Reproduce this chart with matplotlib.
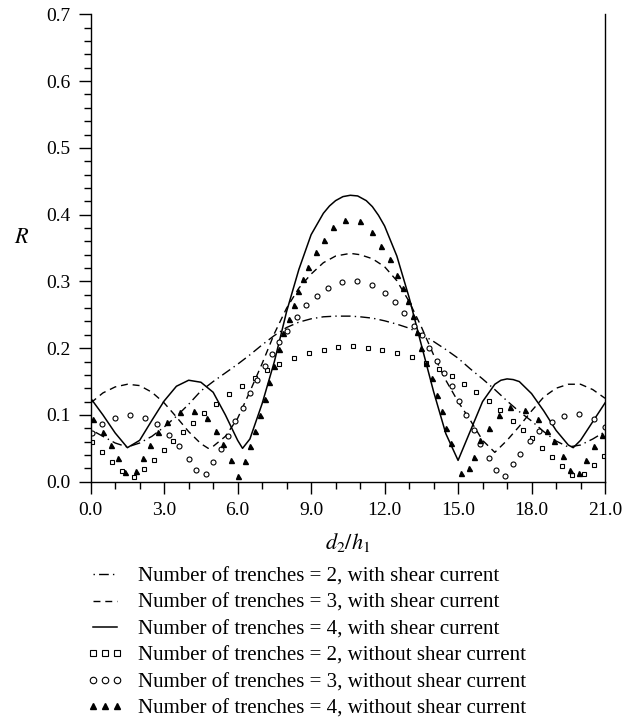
import numpy as np
import matplotlib
matplotlib.use("Agg")
import matplotlib.pyplot as plt
from matplotlib.ticker import MultipleLocator, FormatStrFormatter

plt.rcParams['font.family'] = ['Liberation Serif', 'DejaVu Serif']
plt.rcParams['mathtext.fontset'] = 'stix'

# lines: with shear current
x_n2_shear = [0.0, 0.5, 1.0, 1.5, 2.0, 2.5, 3.0, 3.5, 4.0, 4.5, 5.0, 5.5, 6.0, 6.5, 7.0, 7.5, 8.0, 8.5,
              9.0, 9.5, 10.0, 10.6, 11.0, 11.5, 12.0, 12.5, 13.0, 13.5, 14.0, 14.5, 15.0, 15.5, 16.0,
              16.5, 17.0, 17.5, 18.0, 18.5, 19.0, 19.5, 20.0, 20.5, 21.0]
y_n2_shear = [0.078, 0.068, 0.058, 0.052, 0.058, 0.068, 0.082, 0.098, 0.116, 0.136, 0.150, 0.163, 0.176,
              0.190, 0.205, 0.219, 0.231, 0.239, 0.244, 0.247, 0.248, 0.248, 0.247, 0.245, 0.241, 0.236,
              0.230, 0.221, 0.210, 0.198, 0.185, 0.169, 0.154, 0.138, 0.121, 0.105, 0.091, 0.075, 0.061,
              0.052, 0.055, 0.064, 0.075]

x_n3_shear = [0.0, 0.5, 1.0, 1.5, 2.0, 2.5, 3.0, 3.5, 4.0, 4.5, 4.8, 5.0, 5.5, 6.0, 6.5, 7.0, 7.5, 8.0,
              8.5, 9.0, 9.5, 10.0, 10.6, 11.0, 11.5, 12.0, 12.5, 13.0, 13.5, 14.0, 14.5, 15.0, 15.5,
              16.0, 16.5, 17.0, 17.5, 18.0, 18.5, 19.0, 19.5, 20.0, 20.5, 21.0]
y_n3_shear = [0.118, 0.133, 0.142, 0.146, 0.144, 0.134, 0.118, 0.097, 0.075, 0.057, 0.050, 0.053, 0.068,
              0.095, 0.135, 0.177, 0.222, 0.260, 0.290, 0.311, 0.328, 0.338, 0.342, 0.340, 0.334, 0.322,
              0.301, 0.270, 0.232, 0.190, 0.152, 0.120, 0.092, 0.062, 0.044, 0.062, 0.083, 0.106, 0.127,
              0.140, 0.146, 0.146, 0.138, 0.125]

x_n4_shear = [0.0, 0.5, 1.0, 1.5, 2.0, 2.5, 3.0, 3.5, 4.0, 4.5, 5.0, 5.5, 6.0, 6.2, 6.5, 7.0, 7.5, 8.0,
              8.5, 9.0, 9.5, 9.75, 10.0, 10.3, 10.6, 10.9, 11.25, 11.5, 11.75, 12.0, 12.5, 13.0, 13.5,
              14.0, 14.5, 15.0, 15.5, 16.0, 16.5, 16.75, 17.0, 17.25, 17.5, 18.0, 18.5, 19.0, 19.5,
              19.7, 20.0, 20.5, 21.0]
y_n4_shear = [0.125, 0.100, 0.073, 0.051, 0.062, 0.092, 0.121, 0.143, 0.152, 0.149, 0.134, 0.100, 0.062,
              0.050, 0.064, 0.117, 0.180, 0.255, 0.318, 0.370, 0.402, 0.413, 0.421, 0.427, 0.429, 0.428,
              0.421, 0.412, 0.399, 0.383, 0.338, 0.276, 0.205, 0.135, 0.072, 0.032, 0.076, 0.120, 0.146,
              0.152, 0.154, 0.153, 0.150, 0.132, 0.106, 0.077, 0.055, 0.051, 0.062, 0.090, 0.118]

# markers: without shear current
x_n2_none = [0.07, 0.47, 0.88, 1.29, 1.78, 2.19, 2.6, 2.99, 3.37, 3.78, 4.19, 4.62, 5.1, 5.65, 6.18, 6.7,
             7.21, 7.7, 8.3, 8.91, 9.51, 10.11, 10.71, 11.31, 11.91, 12.52, 13.12, 13.7, 14.21, 14.76,
             15.23, 15.73, 16.25, 16.73, 17.23, 17.64, 18.02, 18.43, 18.84, 19.24, 19.65, 20.13, 20.54,
             20.95]
y_n2_none = [0.059, 0.044, 0.030, 0.016, 0.007, 0.019, 0.033, 0.047, 0.061, 0.074, 0.088, 0.103, 0.117,
             0.131, 0.144, 0.156, 0.167, 0.176, 0.186, 0.193, 0.198, 0.202, 0.203, 0.201, 0.198, 0.193,
             0.187, 0.178, 0.169, 0.159, 0.147, 0.134, 0.121, 0.107, 0.091, 0.078, 0.065, 0.051, 0.037,
             0.023, 0.010, 0.011, 0.025, 0.038]

x_n3_none = [0.07, 0.48, 0.99, 1.6, 2.2, 2.7, 3.2, 3.6, 4.01, 4.3, 4.71, 5.01, 5.31, 5.6, 5.9, 6.2, 6.5,
             6.8, 7.1, 7.4, 7.7, 8.0, 8.41, 8.79, 9.23, 9.7, 10.28, 10.89, 11.5, 12.0, 12.42, 12.79,
             13.21, 13.51, 13.81, 14.12, 14.43, 14.76, 15.03, 15.34, 15.64, 15.91, 16.25, 16.55, 16.93,
             17.24, 17.54, 17.95, 18.32, 18.84, 19.34, 19.95, 20.54, 21.0]
y_n3_none = [0.073, 0.086, 0.096, 0.100, 0.096, 0.086, 0.070, 0.054, 0.034, 0.018, 0.011, 0.029, 0.049,
             0.069, 0.091, 0.111, 0.133, 0.153, 0.173, 0.192, 0.210, 0.226, 0.246, 0.264, 0.278, 0.290,
             0.299, 0.300, 0.294, 0.282, 0.269, 0.252, 0.233, 0.219, 0.200, 0.181, 0.163, 0.143, 0.121,
             0.100, 0.078, 0.057, 0.036, 0.017, 0.008, 0.026, 0.042, 0.061, 0.076, 0.090, 0.099, 0.101,
             0.094, 0.082]

x_n4_none = [0.1, 0.5, 0.82, 1.12, 1.39, 1.84, 2.14, 2.42, 2.75, 3.1, 3.63, 4.22, 4.73, 5.1, 5.41, 5.71,
             6.0, 6.29, 6.5, 6.7, 6.9, 7.11, 7.27, 7.49, 7.7, 7.86, 8.11, 8.31, 8.47, 8.65, 8.88, 9.19,
             9.52, 9.9, 10.4, 11.0, 11.49, 11.87, 12.21, 12.51, 12.75, 12.96, 13.15, 13.33, 13.5, 13.69,
             13.94, 14.14, 14.35, 14.52, 14.71, 15.12, 15.44, 15.64, 15.91, 16.25, 16.66, 17.14, 17.75,
             18.25, 18.63, 18.93, 19.27, 19.56, 19.93, 20.24, 20.54, 20.88]
y_n4_none = [0.094, 0.074, 0.055, 0.036, 0.015, 0.016, 0.036, 0.055, 0.074, 0.090, 0.104, 0.106, 0.095,
             0.076, 0.056, 0.032, 0.009, 0.031, 0.053, 0.076, 0.100, 0.124, 0.149, 0.174, 0.199, 0.222,
             0.244, 0.265, 0.286, 0.304, 0.321, 0.344, 0.362, 0.381, 0.392, 0.390, 0.374, 0.353, 0.334,
             0.309, 0.290, 0.271, 0.248, 0.224, 0.200, 0.178, 0.156, 0.130, 0.106, 0.081, 0.058, 0.013,
             0.020, 0.037, 0.062, 0.081, 0.100, 0.112, 0.108, 0.094, 0.076, 0.061, 0.039, 0.018, 0.013,
             0.033, 0.053, 0.070]

labels = ['Number of trenches = 2, with shear current',
          'Number of trenches = 3, with shear current',
          'Number of trenches = 4, with shear current',
          'Number of trenches = 2, without shear current',
          'Number of trenches = 3, without shear current',
          'Number of trenches = 4, without shear current']

fig = plt.figure(figsize=(6.36, 7.23), dpi=100)
ax = fig.add_axes([0.1426, 0.3337, 0.8087, 0.6465])

h1, = ax.plot(x_n2_shear, y_n2_shear, color='k', lw=1.0, dashes=(1, 3, 7, 3))
h2, = ax.plot(x_n3_shear, y_n3_shear, color='k', lw=1.0, dashes=(5, 3.5))
h3, = ax.plot(x_n4_shear, y_n4_shear, color='k', lw=1.1)
h4, = ax.plot(x_n2_none, y_n2_none, ls='none', marker='s', ms=3.0, mfc='white', mec='k', mew=0.8)
h5, = ax.plot(x_n3_none, y_n3_none, ls='none', marker='o', ms=3.6, mfc='white', mec='k', mew=0.8)
h6, = ax.plot(x_n4_none, y_n4_none, ls='none', marker='^', ms=3.6, color='k')

ax.set_xlim(0, 21)
ax.set_ylim(0, 0.7)
ax.xaxis.set_major_locator(MultipleLocator(3))
ax.xaxis.set_minor_locator(MultipleLocator(1))
ax.yaxis.set_major_locator(MultipleLocator(0.1))
ax.yaxis.set_minor_locator(MultipleLocator(0.02))
ax.xaxis.set_major_formatter(FormatStrFormatter('%.1f'))
ax.yaxis.set_major_formatter(FormatStrFormatter('%.1f'))
ax.tick_params(which='major', length=8.5, width=1.0, labelsize=14, direction='out', pad=6)
ax.tick_params(which='minor', length=5, width=1.0, direction='out')
ax.tick_params(right=False, top=False, which='both')

ax.spines['top'].set_visible(False)
for s in ['left', 'bottom', 'right']:
    ax.spines[s].set_linewidth(1.0)

ax.set_xlabel(r'$d_2/h_1$', fontsize=16)
ax.xaxis.set_label_coords(0.5, -0.106)
ax.set_ylabel(r'$R$', fontsize=16, rotation=0)
ax.yaxis.set_label_coords(-0.135, 0.50)

ax.legend([h1, h2, h3, h4, h5, h6], labels, loc='upper left',
          bbox_to_anchor=(0.136, 0.216), bbox_transform=fig.transFigure,
          frameon=False, fontsize=15, numpoints=3, handlelength=1.75,
          handletextpad=0.7, labelspacing=0.33, borderpad=0, borderaxespad=0,
          markerscale=1.3)

fig.savefig('out.png', dpi=100)
